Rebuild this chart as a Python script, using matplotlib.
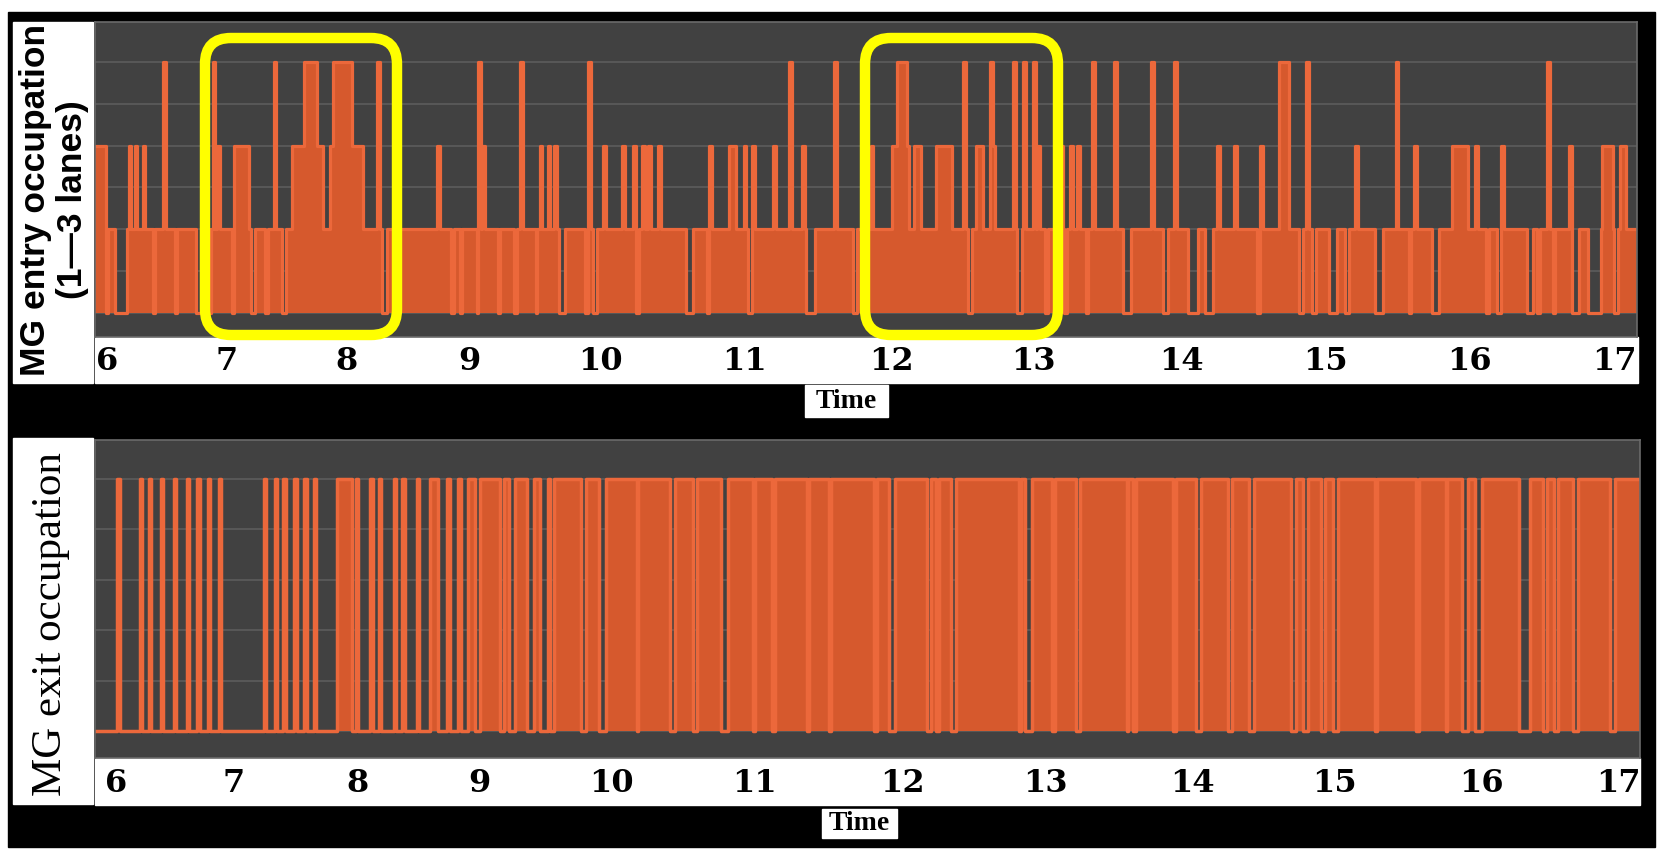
import matplotlib
matplotlib.use("Agg")
import matplotlib.pyplot as plt
import numpy as np
from matplotlib.patches import Rectangle, FancyBboxPatch

# ---- data (hours of the day) ----
hours = list(range(6, 18))

# MG entry: periods with no lane occupied (level 0), everything else is >= 1 lane
entry_idle = [(5.995, 6.01), (6.07, 6.17), (6.38, 6.40), (6.57, 6.58), (6.74, 6.78),
              (6.85, 6.87), (7.04, 7.06), (7.20, 7.23), (7.32, 7.34), (7.46, 7.49),
              (8.29, 8.33), (8.85, 8.88), (8.93, 8.94), (9.06, 9.075), (9.22, 9.24),
              (9.34, 9.37), (9.51, 9.52), (9.69, 9.73), (9.885, 9.91), (9.95, 9.975),
              (10.25, 10.27), (10.59, 10.64), (10.74, 10.755), (11.02, 11.05), (11.42, 11.48),
              (11.74, 11.77), (12.54, 12.57), (12.89, 12.92), (13.08, 13.10), (13.21, 13.23),
              (13.36, 13.37), (13.61, 13.66), (13.88, 13.91), (14.05, 14.12), (14.17, 14.22),
              (14.53, 14.55), (14.82, 14.85), (14.91, 14.94), (15.03, 15.08), (15.14, 15.17),
              (15.35, 15.40), (15.58, 15.60), (15.74, 15.79), (16.12, 16.14), (16.19, 16.22),
              (16.40, 16.44), (16.47, 16.49), (16.58, 16.59), (16.71, 16.76), (16.82, 16.91),
              (17.00, 17.03)]
# short jumps to 2 lanes, and longer 2-lane stretches
entry_two = [6.19, 6.24, 6.31, 6.93, 8.75, 9.11, 9.55, 9.61, 9.66, 10.03, 10.16, 10.24,
             10.30, 10.34, 10.41, 10.76, 11.06, 11.20, 11.40, 11.87, 12.72, 13.04, 13.19,
             13.26, 13.31, 14.26, 14.38, 14.56, 15.22, 15.63, 16.05, 16.23, 16.70]
entry_two_blocks = [(5.90, 5.99), (7.06, 7.18), (7.54, 7.80), (7.86, 8.13), (10.89, 10.94),
                    (10.99, 11.01), (12.01, 12.13), (12.16, 12.21), (12.32, 12.43),
                    (12.60, 12.65), (15.88, 15.99), (16.92, 16.99), (17.04, 17.08)]
# jumps to 3 lanes
entry_three = [6.48, 6.89, 7.40, 8.26, 9.08, 9.40, 9.92, 11.31, 11.62, 12.52, 12.71, 12.87,
               12.94, 13.01, 13.41, 13.56, 13.81, 13.96, 14.88, 15.50, 16.55]
entry_three_blocks = [(7.64, 7.75), (7.88, 8.04), (12.04, 12.11), (14.68, 14.75)]

# MG exit: isolated pulses early, then a busy period with short idle gaps
exit_pulses = [6.02, 6.21, 6.29, 6.39, 6.50, 6.61, 6.70, 6.79, 6.88, 7.25, 7.34, 7.41,
               7.50, 7.58, 7.66, 8.00, 8.12, 8.19, 8.31, 8.38, 8.50, 8.75, 8.84]
exit_blocks = [(7.84, 7.96), (8.60, 8.66), (8.91, 8.97), (9.01, 9.16), (9.19, 9.23),
               (9.27, 9.36), (9.42, 9.46)]
exit_busy_start = 9.46
exit_idle = [(9.46, 9.52), (9.54, 9.57), (9.77, 9.81), (9.91, 9.96), (10.18, 10.19),
             (10.41, 10.45), (10.575, 10.60), (10.77, 10.82), (10.99, 11.01), (11.12, 11.145),
             (11.36, 11.37), (11.51, 11.52), (11.81, 11.83), (11.915, 11.95), (12.175, 12.20),
             (12.24, 12.26), (12.34, 12.375), (12.82, 12.83), (12.86, 12.91), (13.05, 13.07),
             (13.21, 13.24), (13.555, 13.565), (13.60, 13.62), (13.87, 13.89), (14.03, 14.065),
             (14.25, 14.285), (14.40, 14.44), (14.70, 14.73), (14.78, 14.82), (14.91, 14.935),
             (14.99, 15.025), (15.28, 15.29), (15.56, 15.58), (15.76, 15.77), (15.87, 15.91),
             (15.96, 16.01), (16.28, 16.36), (16.455, 16.48), (16.53, 16.56), (16.67, 16.71),
             (16.94, 16.98)]

SPIKE = 0.01  # half duration of a short pulse (h)

# pixel positions of the hour labels in each panel (labels are not evenly spaced)
top_tick_px = [107, 227, 347, 469, 600, 745, 891, 1033, 1181, 1325, 1469, 1614]
bot_tick_px = [116, 234, 357, 479, 611, 754, 902, 1045, 1192, 1334, 1481, 1618]

W, H = 1671, 860
BG = '#414141'
GRID = '#5a5a5a'
FILL = '#d6592d'
LINE = '#ec683b'


def fbox(x0, y0, x1, y1):
    return [x0 / W, 1 - y1 / H, (x1 - x0) / W, (y1 - y0) / H]


def complement(t0, t1, gaps):
    out, cur = [], t0
    for a, b in sorted(gaps):
        if a > cur:
            out.append((cur, a))
        cur = max(cur, b)
    if cur < t1:
        out.append((cur, t1))
    return out


def spikes(times):
    return [(t - SPIKE, t + SPIKE) for t in times]


def step_series(t0, t1, layers):
    edges = {t0, t1}
    for _, ivs in layers:
        for a, b in ivs:
            edges.update((a, b))
    edges = sorted(e for e in edges if t0 <= e <= t1)
    levels = []
    for a, b in zip(edges[:-1], edges[1:]):
        m = 0.5 * (a + b)
        lv = 0
        for k, ivs in layers:
            if any(s <= m < e for s, e in ivs):
                lv = max(lv, k)
        levels.append(lv)
    levels.append(levels[-1])
    return np.array(edges), np.array(levels)


def hour_scale(px):
    hx = [5.0] + hours + [18.0]
    pe = [px[0] - (px[1] - px[0])] + px + [px[-1] + (px[-1] - px[-2])]
    fwd = lambda h: np.interp(h, hx, pe)
    inv = lambda p: np.interp(p, pe, hx)
    return fwd, inv


def style_axes(ax, px, x0px, x1px, ylim, ystep, pad):
    fwd, inv = hour_scale(px)
    ax.set_xscale('function', functions=(fwd, inv))
    ax.set_xlim(float(inv(x0px)), float(inv(x1px)))
    ax.set_ylim(*ylim)
    ax.set_facecolor(BG)
    ax.set_xticks(hours)
    ax.set_xticklabels([str(h) for h in hours], fontfamily='DejaVu Serif',
                       fontweight='bold', fontsize=23)
    ax.minorticks_off()
    ax.set_yticks(np.arange(0, ylim[1], ystep))
    ax.tick_params(axis='both', length=0)
    ax.tick_params(axis='x', pad=pad)
    ax.tick_params(axis='y', labelleft=False)
    ax.yaxis.grid(True, color=GRID, linewidth=1.3)
    ax.xaxis.grid(False)
    ax.set_axisbelow(True)
    for s in ax.spines.values():
        s.set_color('#6a6a6a')
        s.set_linewidth(1.2)


fig = plt.figure(figsize=(W / 100, H / 100), dpi=100, facecolor='white')

# black frame and white label strips
fig.add_artist(Rectangle((8 / W, 1 - 847 / H), 1647 / W, 835 / H, transform=fig.transFigure,
                         color='black', zorder=-10))
for box in [(13, 22, 93, 383), (95, 337, 1638, 383), (13, 438, 93, 804), (95, 758, 1640, 805),
            (805, 385, 888, 417), (822, 809, 897, 838)]:
    l, b, w, h = fbox(*box)
    fig.add_artist(Rectangle((l, b), w, h, transform=fig.transFigure, color='white', zorder=-9))

# top panel: entry occupation
ax1 = fig.add_axes(fbox(95, 22, 1637, 337))
style_axes(ax1, top_tick_px, 95, 1637, (-0.287, 3.478), 0.5, 6.5)
t0, t1 = ax1.get_xlim()
layers = [(1, complement(t0, t1, entry_idle)),
          (2, spikes(entry_two) + entry_two_blocks),
          (3, spikes(entry_three) + entry_three_blocks)]
tt, lv = step_series(t0, t1, layers)
ax1.fill_between(tt, lv, 0, step='post', color=FILL, linewidth=0)
ax1.step(tt, lv, where='post', color=LINE, linewidth=2.3)

# bottom panel: exit occupation
ax2 = fig.add_axes(fbox(95, 440, 1640, 758))
style_axes(ax2, bot_tick_px, 95, 1640, (-0.107, 1.155), 0.2, 7.5)
t0, t1 = ax2.get_xlim()
layers = [(1, spikes(exit_pulses) + exit_blocks + complement(exit_busy_start, t1, exit_idle))]
tt, lv = step_series(t0, t1, layers)
ax2.fill_between(tt, lv, 0, step='post', color=FILL, linewidth=0)
ax2.step(tt, lv, where='post', color=LINE, linewidth=2.5)

# labels
fig.text(54 / W, 1 - 200 / H, "MG entry occupation\n(1\u20143 lanes)", rotation=90,
         ha='center', va='center', multialignment='center', fontfamily='Liberation Sans',
         fontweight='bold', fontsize=25.5, linespacing=1.15)
fig.text(51 / W, 1 - 624 / H, "MG exit occupation", rotation=90, ha='center', va='center',
         fontfamily='Liberation Serif', fontsize=31)
fig.text(846 / W, 1 - 401 / H, "Time", ha='center', va='center',
         fontfamily='Liberation Serif', fontweight='bold', fontsize=20)
fig.text(859 / W, 1 - 824 / H, "Time", ha='center', va='center',
         fontfamily='Liberation Serif', fontweight='bold', fontsize=20)

# highlighted periods (yellow rounded boxes), in inches
for x0, x1 in [(205, 397), (865, 1058)]:
    y0, y1 = 38, 335
    fig.add_artist(FancyBboxPatch((x0 / 100, (H - y1) / 100), (x1 - x0) / 100, (y1 - y0) / 100,
                                  boxstyle='round,pad=0,rounding_size=0.26',
                                  transform=fig.dpi_scale_trans, fill=False,
                                  edgecolor='#ffff00', linewidth=7.5, zorder=10))

fig.savefig('out.png', dpi=100, facecolor='white')
